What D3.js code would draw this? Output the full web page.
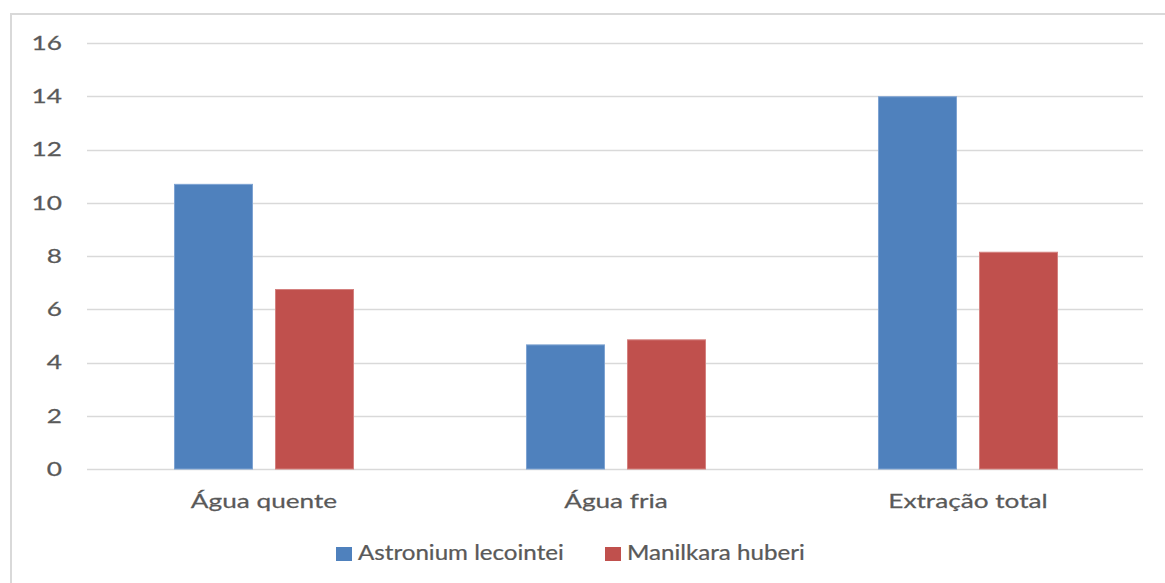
<!DOCTYPE html>
<html>
<head>
<meta charset="utf-8">
<script src="https://cdn.jsdelivr.net/npm/d3@7"></script>
<style>
  html, body { margin: 0; padding: 0; background: #fff; }
  svg { display: block; }
  text { font-family: Lato, "Open Sans", sans-serif; fill: #595959; stroke: #595959; stroke-width: 0.25px; }
</style>
</head>
<body>
<svg id="chart" width="1165" height="583"></svg>
<script>
const categories = ["Água quente", "Água fria", "Extração total"];
const seriesNames = ["Astronium lecointei", "Manilkara huberi"];
const astroniumValues = [10.71, 4.68, 14.0];
const manilkaraValues = [6.76, 4.87, 8.16];
const yTicks = [0, 2, 4, 6, 8, 10, 12, 14, 16];
const seriesColors = ["#4f81bd", "#c0504d"];
const seriesStrokes = ["#7ea3d2", "#d4817f"];

const W = 1165, H = 583;
const svg = d3.select("#chart");

// frame
svg.append("path")
  .attr("d", `M11,${H} L11,14 L${W},14`)
  .attr("fill", "none").attr("stroke", "#d9d9d9").attr("stroke-width", 2);

const plotL = 88, plotR = 1144;
const y = d3.scaleLinear().domain([0, 16]).range([469, 43]);
const x0 = d3.scaleBand().domain(categories).range([plotL, plotR])
  .paddingInner(0.4886).paddingOuter(0.2443);
const x1 = d3.scaleBand().domain(seriesNames).range([0, x0.bandwidth()])
  .paddingInner(0.2178);

// gridlines
svg.append("g").selectAll("line").data(yTicks).join("line")
  .attr("x1", plotL - 1).attr("x2", plotR - 1)
  .attr("y1", d => Math.round(y(d)) + 0.5).attr("y2", d => Math.round(y(d)) + 0.5)
  .attr("stroke", "#d9d9d9").attr("stroke-width", 1.5);

// y tick labels
svg.append("g").selectAll("text").data(yTicks).join("text")
  .attr("transform", d => `translate(62,${y(d)}) scale(1.38,1)`)
  .attr("text-anchor", "end").attr("dy", "0.36em")
  .style("font-size", "19px")
  .text(d => d);

// bars
const rows = categories.map((c, i) => ({ cat: c, vals: [astroniumValues[i], manilkaraValues[i]] }));
const g = svg.append("g").selectAll("g").data(rows).join("g")
  .attr("transform", d => `translate(${x0(d.cat)},0)`);
g.selectAll("rect").data(d => d.vals.map((v, j) => ({ s: seriesNames[j], v, j })))
  .join("rect")
  .attr("x", d => x1(d.s) + 0.5)
  .attr("width", x1.bandwidth() - 1)
  .attr("y", d => y(d.v) + 0.5)
  .attr("height", d => y(0) - y(d.v) - 0.5)
  .attr("fill", d => seriesColors[d.j])
  .attr("stroke", d => seriesStrokes[d.j]).attr("stroke-width", 1);

// category labels
svg.append("g").selectAll("text").data(categories).join("text")
  .attr("transform", d => `translate(${x0(d) + x0.bandwidth() / 2},508) scale(1.31,1)`)
  .attr("text-anchor", "middle")
  .style("font-size", "20px")
  .text(d => d);

// legend
const legendItems = [
  { name: seriesNames[0], color: seriesColors[0], x: 336 },
  { name: seriesNames[1], color: seriesColors[1], x: 605 }
];
const lg = svg.append("g").selectAll("g").data(legendItems).join("g")
  .attr("transform", d => `translate(${d.x},0)`);
lg.append("rect").attr("x", 0).attr("y", 547).attr("width", 16).attr("height", 14)
  .attr("fill", d => d.color);
lg.append("text")
  .attr("transform", `translate(22,560) scale(1.15,1)`)
  .style("font-size", "21px")
  .text(d => d.name);
</script>
</body>
</html>
